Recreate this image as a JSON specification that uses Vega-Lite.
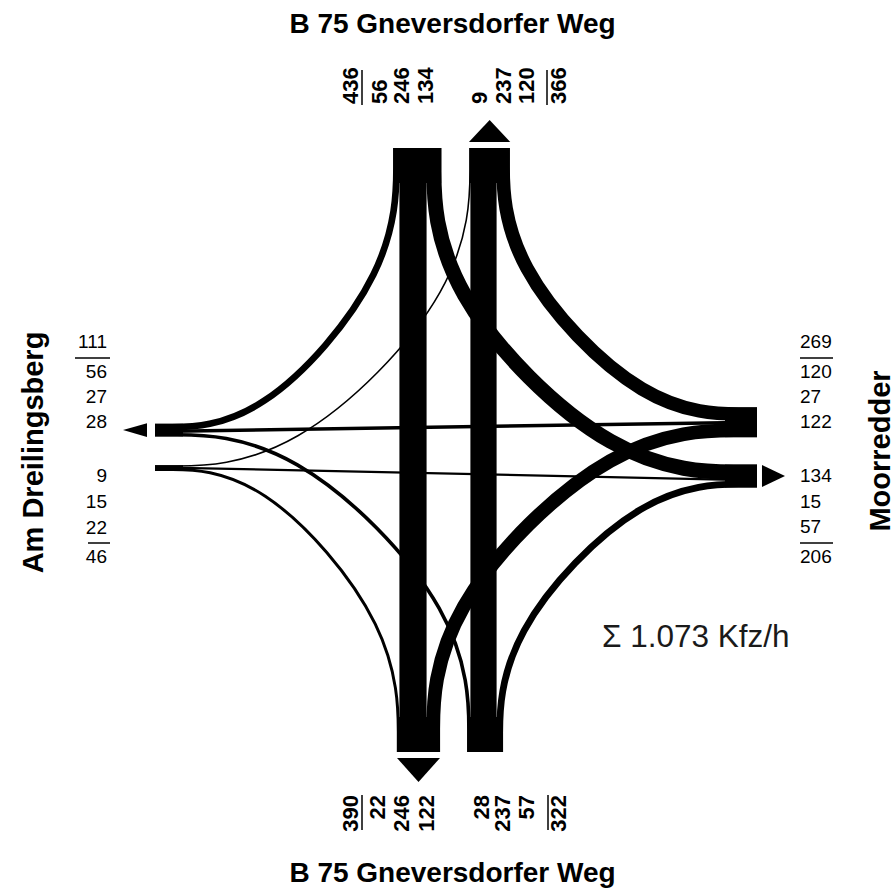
{
  "$schema": "https://vega.github.io/schema/vega-lite/v6.json",
  "width": 896,
  "height": 893,
  "autosize": {"type": "none"},
  "padding": 0,
  "background": "white",
  "view": {"stroke": null},
  "config": {"font": "Liberation Sans"},
  "datasets": {
    "flows": [
      {"flow": "N-W", "i": 0, "x": 396.4, "y": 148, "v": 56},
      {"flow": "N-W", "i": 1, "x": 396.4, "y": 268.0, "v": 56},
      {"flow": "N-W", "i": 2, "x": 258.8, "y": 427.1, "v": 56},
      {"flow": "N-W", "i": 3, "x": 155, "y": 427.1, "v": 56},
      {"flow": "N-S", "i": 0, "x": 413, "y": 148, "v": 246},
      {"flow": "N-S", "i": 1, "x": 413, "y": 752, "v": 246},
      {"flow": "N-E", "i": 0, "x": 433.9, "y": 148, "v": 134},
      {"flow": "N-E", "i": 1, "x": 433.9, "y": 287.4, "v": 134},
      {"flow": "N-E", "i": 2, "x": 618.1, "y": 472.1, "v": 134},
      {"flow": "N-E", "i": 3, "x": 757, "y": 472.1, "v": 134},
      {"flow": "S-W", "i": 0, "x": 468.9, "y": 752, "v": 28},
      {"flow": "S-W", "i": 1, "x": 468.9, "y": 615.6, "v": 28},
      {"flow": "S-W", "i": 2, "x": 290.0, "y": 434.7, "v": 28},
      {"flow": "S-W", "i": 3, "x": 155, "y": 434.7, "v": 28},
      {"flow": "S-N", "i": 0, "x": 483.5, "y": 752, "v": 237},
      {"flow": "S-N", "i": 1, "x": 483.5, "y": 148, "v": 237},
      {"flow": "S-E", "i": 0, "x": 499.7, "y": 752, "v": 57},
      {"flow": "S-E", "i": 1, "x": 499.7, "y": 636.8, "v": 57},
      {"flow": "S-E", "i": 2, "x": 646.4, "y": 484.2, "v": 57},
      {"flow": "S-E", "i": 3, "x": 757, "y": 484.2, "v": 57},
      {"flow": "W-N", "i": 0, "x": 155, "y": 466.0, "v": 9},
      {"flow": "W-N", "i": 1, "x": 290.5, "y": 466.0, "v": 9},
      {"flow": "W-N", "i": 2, "x": 470.0, "y": 284.7, "v": 9},
      {"flow": "W-N", "i": 3, "x": 470.0, "y": 148, "v": 9},
      {"flow": "W-E", "i": 0, "x": 155, "y": 467.3, "v": 15},
      {"flow": "W-E", "i": 1, "x": 757, "y": 480.3, "v": 15},
      {"flow": "W-S", "i": 0, "x": 155, "y": 469.4, "v": 22},
      {"flow": "W-S", "i": 1, "x": 259.6, "y": 469.4, "v": 22},
      {"flow": "W-S", "i": 2, "x": 398.3, "y": 630.5, "v": 22},
      {"flow": "W-S", "i": 3, "x": 398.3, "y": 752, "v": 22},
      {"flow": "E-N", "i": 0, "x": 757, "y": 414.1, "v": 120},
      {"flow": "E-N", "i": 1, "x": 647.8, "y": 414.1, "v": 120},
      {"flow": "E-N", "i": 2, "x": 503.1, "y": 262.4, "v": 120},
      {"flow": "E-N", "i": 3, "x": 503.1, "y": 148, "v": 120},
      {"flow": "E-W", "i": 0, "x": 757, "y": 422.2, "v": 27},
      {"flow": "E-W", "i": 1, "x": 155, "y": 431.6, "v": 27},
      {"flow": "E-S", "i": 0, "x": 757, "y": 430.4, "v": 122},
      {"flow": "E-S", "i": 1, "x": 617.8, "y": 430.4, "v": 122},
      {"flow": "E-S", "i": 2, "x": 433.2, "y": 613.7, "v": 122},
      {"flow": "E-S", "i": 3, "x": 433.2, "y": 752, "v": 122}
    ],
    "blocks": [
      {"arm": "N in", "x": 417.3, "x2": 417.3, "y": 148, "y2": 183, "v": 436},
      {"arm": "N out", "x": 489.6, "x2": 489.6, "y": 148, "y2": 183, "v": 366},
      {"arm": "S out", "x": 418.5, "x2": 418.5, "y": 717, "y2": 752, "v": 390},
      {"arm": "S in", "x": 485.1, "x2": 485.1, "y": 717, "y2": 752, "v": 322},
      {"arm": "W out", "x": 155, "x2": 183, "y": 430.1, "y2": 430.1, "v": 111},
      {"arm": "W in", "x": 155, "x2": 183, "y": 468.0, "y2": 468.0, "v": 46},
      {"arm": "E in", "x": 725, "x2": 757, "y": 422.3, "y2": 422.3, "v": 269},
      {"arm": "E out", "x": 725, "x2": 757, "y": 476.05, "y2": 476.05, "v": 206}
    ],
    "arrows": [
      {"dir": "up", "x": 489.6, "y": 131},
      {"dir": "down", "x": 418.5, "y": 770},
      {"dir": "left", "x": 135, "y": 430.1},
      {"dir": "right", "x": 773.5, "y": 476.05}
    ],
    "topnums": [
      {"t": "436", "x": 351, "y": 104},
      {"t": "56", "x": 380, "y": 104},
      {"t": "246", "x": 402, "y": 104},
      {"t": "134", "x": 426, "y": 104},
      {"t": "9", "x": 480, "y": 104},
      {"t": "237", "x": 504, "y": 104},
      {"t": "120", "x": 527, "y": 104},
      {"t": "366", "x": 559, "y": 104}
    ],
    "botnums": [
      {"t": "390", "x": 351, "y": 795},
      {"t": "22", "x": 378, "y": 795},
      {"t": "246", "x": 402, "y": 795},
      {"t": "122", "x": 427, "y": 795},
      {"t": "28", "x": 482, "y": 795},
      {"t": "237", "x": 503, "y": 795},
      {"t": "57", "x": 527, "y": 795},
      {"t": "322", "x": 559, "y": 795}
    ],
    "leftnums": [
      {"t": "111", "x": 107, "y": 342},
      {"t": "56", "x": 107, "y": 372},
      {"t": "27", "x": 107, "y": 397},
      {"t": "28", "x": 107, "y": 422},
      {"t": "9", "x": 107, "y": 476},
      {"t": "15", "x": 107, "y": 502},
      {"t": "22", "x": 107, "y": 528},
      {"t": "46", "x": 107, "y": 557}
    ],
    "rightnums": [
      {"t": "269", "x": 800, "y": 341.5},
      {"t": "120", "x": 800, "y": 372},
      {"t": "27", "x": 800, "y": 397},
      {"t": "122", "x": 800, "y": 422},
      {"t": "134", "x": 800, "y": 476},
      {"t": "15", "x": 800, "y": 502},
      {"t": "57", "x": 800, "y": 527},
      {"t": "206", "x": 800, "y": 557}
    ],
    "seps": [
      {"x": 75, "x2": 110, "y": 358, "y2": 358},
      {"x": 88, "x2": 110, "y": 543, "y2": 543},
      {"x": 800, "x2": 833, "y": 358, "y2": 358},
      {"x": 800, "x2": 833, "y": 543, "y2": 543},
      {"x": 362, "x2": 362, "y": 70, "y2": 105},
      {"x": 547, "x2": 547, "y": 70, "y2": 105},
      {"x": 362, "x2": 362, "y": 795, "y2": 830},
      {"x": 548, "x2": 548, "y": 795, "y2": 830}
    ],
    "htitles": [
      {"t": "B 75 Gneversdorfer Weg", "x": 452.5, "y": 33},
      {"t": "B 75 Gneversdorfer Weg", "x": 452.5, "y": 882}
    ],
    "vtitles": [
      {"t": "Am Dreilingsberg", "x": 43, "y": 452.5},
      {"t": "Moorredder", "x": 890, "y": 451}
    ],
    "sum": [
      {"t": "Σ 1.073 Kfz/h", "x": 602, "y": 647}
    ]
  },
  "encoding": {
    "x": {"field": "x", "type": "quantitative", "scale": {"domain": [0, 896], "nice": false, "zero": false}, "axis": null},
    "y": {"field": "y", "type": "quantitative", "scale": {"domain": [0, 893], "nice": false, "zero": false, "reverse": true}, "axis": null}
  },
  "layer": [
    {
      "data": {"name": "flows"},
      "mark": {"type": "line", "interpolate": "basis", "color": "black", "strokeCap": "butt", "strokeJoin": "round"},
      "encoding": {
        "detail": {"field": "flow", "type": "nominal"},
        "order": {"field": "i", "type": "quantitative"},
        "size": {"field": "v", "type": "quantitative", "scale": {"domain": [0, 100], "range": [0.6, 11.4]}, "legend": null}
      }
    },
    {
      "data": {"name": "blocks"},
      "mark": {"type": "rule", "color": "black", "strokeCap": "butt"},
      "encoding": {
        "x2": {"field": "x2"},
        "y2": {"field": "y2"},
        "size": {"field": "v", "type": "quantitative", "scale": {"domain": [0, 100], "range": [0.6, 11.4]}, "legend": null}
      }
    },
    {
      "data": {"name": "arrows"},
      "mark": {"type": "point", "filled": true, "color": "black", "opacity": 1, "size": 576, "strokeWidth": 0},
      "encoding": {
        "shape": {"field": "dir", "type": "nominal", "scale": {"domain": ["up", "down", "left", "right"], "range": ["M0,-0.92L1.72,0.92L-1.72,0.92Z", "M0,1L1.79,-1L-1.79,-1Z", "M-1,0L1,-0.58L1,0.58Z", "M0.96,0L-0.96,-0.92L-0.96,0.92Z"]}, "legend": null}
      }
    },
    {
      "data": {"name": "seps"},
      "mark": {"type": "rule", "color": "black", "strokeWidth": 1.5},
      "encoding": {"x2": {"field": "x2"}, "y2": {"field": "y2"}}
    },
    {
      "data": {"name": "topnums"},
      "mark": {"type": "text", "angle": 270, "align": "left", "baseline": "middle", "fontSize": 22, "fontWeight": "bold", "color": "black"},
      "encoding": {"text": {"field": "t"}}
    },
    {
      "data": {"name": "botnums"},
      "mark": {"type": "text", "angle": 270, "align": "right", "baseline": "middle", "fontSize": 22, "fontWeight": "bold", "color": "black"},
      "encoding": {"text": {"field": "t"}}
    },
    {
      "data": {"name": "leftnums"},
      "mark": {"type": "text", "align": "right", "baseline": "middle", "fontSize": 19, "color": "black"},
      "encoding": {"text": {"field": "t"}}
    },
    {
      "data": {"name": "rightnums"},
      "mark": {"type": "text", "align": "left", "baseline": "middle", "fontSize": 19, "color": "black"},
      "encoding": {"text": {"field": "t"}}
    },
    {
      "data": {"name": "htitles"},
      "mark": {"type": "text", "align": "center", "baseline": "alphabetic", "fontSize": 28, "fontWeight": "bold", "color": "black"},
      "encoding": {"text": {"field": "t"}}
    },
    {
      "data": {"name": "vtitles"},
      "mark": {"type": "text", "angle": 270, "align": "center", "baseline": "alphabetic", "fontSize": 29, "fontWeight": "bold", "color": "black"},
      "encoding": {"text": {"field": "t"}}
    },
    {
      "data": {"name": "sum"},
      "mark": {"type": "text", "align": "left", "baseline": "alphabetic", "fontSize": 31.5, "color": "#1a1a1a"},
      "encoding": {"text": {"field": "t"}}
    }
  ]
}
